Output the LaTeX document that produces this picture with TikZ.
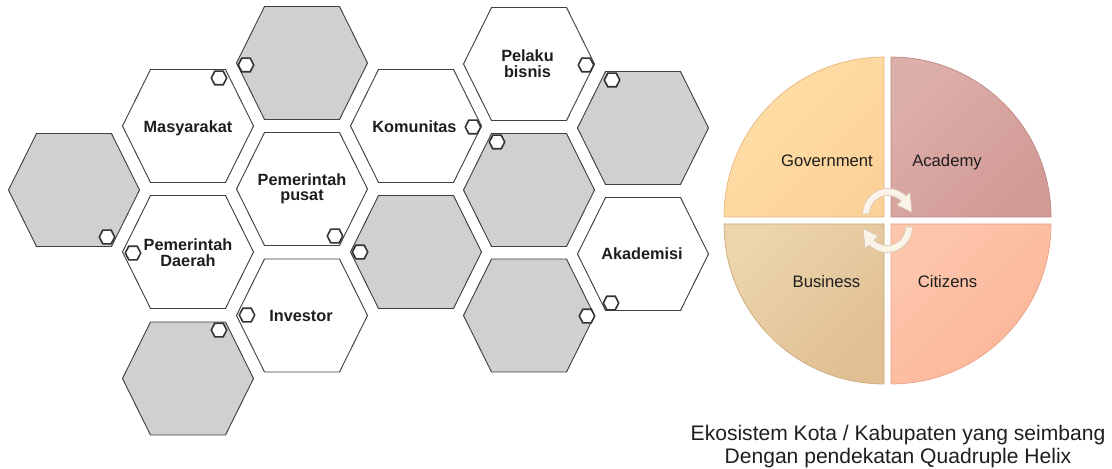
\documentclass[tikz,border=0pt]{standalone}
\usepackage{fontspec}
\setmainfont{Liberation Sans}

\definecolor{hexedge}{HTML}{404040}
\definecolor{hexgray}{HTML}{D0D0D0}
\definecolor{inktext}{HTML}{1E1E1E}
\definecolor{govA}{HTML}{FEDFA8}
\definecolor{govB}{HTML}{FCD298}
\definecolor{govE}{HTML}{E8B47A}
\definecolor{acaA}{HTML}{DDAFAB}
\definecolor{acaB}{HTML}{D29A95}
\definecolor{acaE}{HTML}{BF8580}
\definecolor{busA}{HTML}{ECD4AC}
\definecolor{busB}{HTML}{E0BF92}
\definecolor{busE}{HTML}{CBA777}
\definecolor{citA}{HTML}{FDC6AB}
\definecolor{citB}{HTML}{FBB598}
\definecolor{citE}{HTML}{E89F83}
\definecolor{arrowfill}{HTML}{FBF2E8}
\definecolor{arrowedge}{HTML}{D8C6B4}

% one honeycomb cell: x, y, fill, name of its centre
\newcommand{\hexcell}[4]{%
  \path[hexline, fill=#3, shift={(#1,#2)}]
    (-65.5,0) -- (-37.5,56.5) -- (37.5,56.5) -- (65.5,0)
    -- (37.5,-56.5) -- (-37.5,-56.5) -- cycle;
  \coordinate (#4) at (#1,#2);}

% small hexagonal marker: name, x, y
\newcommand{\hexbadge}[3]{%
  \path[badgeline, shift={(#2,#3)}]
    (-7.7,0) -- (-4.2,6.8) -- (4.2,6.8) -- (7.7,0)
    -- (4.2,-6.8) -- (-4.2,-6.8) -- cycle;
  \coordinate (#1) at (#2,#3);}

% curved cycle arrow around the origin of the current scope
\newcommand{\cyclearrow}{%
  \path[cyclearrow]
    (180:25.5) arc[start angle=180, end angle=45, radius=25.5]
    -- (45:31) -- (4:24) -- (45:12.5) -- (45:18.5)
    arc[start angle=45, end angle=180, radius=18.5] -- cycle;}

\begin{document}
\begin{tikzpicture}[x=0.75pt, y=0.75pt,
  hexline/.style={draw=hexedge, line width=0.7pt, line join=miter},
  badgeline/.style={draw=hexedge!80!black, line width=1.2pt, fill=white},
  hexlabel/.style={font=\bfseries\fontsize{12.2pt}{12pt}\selectfont, text=inktext,
                   align=center, inner sep=0pt},
  oneline/.style={text height=8.7pt, text depth=0pt},
  quadlabel/.style={font=\fontsize{12.5pt}{14pt}\selectfont, text=inktext,
                    anchor=base, inner sep=0pt},
  captionline/.style={font=\fontsize{15.8pt}{18pt}\selectfont, text=inktext,
                      anchor=base, inner sep=0pt},
  cyclearrow/.style={fill=arrowfill, draw=arrowedge, line width=0.5pt, line join=round}]

\useasboundingbox (0,0) rectangle (1112,468);

% ---------- honeycomb ----------
\hexcell{74}{278}{hexgray}{c1}
\hexcell{188}{342}{white}{c2}
\hexcell{188}{216}{white}{c3}
\hexcell{188}{89.5}{hexgray}{c4}
\hexcell{302}{405}{hexgray}{c5}
\hexcell{302}{279}{white}{c6}
\hexcell{302}{152.5}{white}{c7}
\hexcell{416}{342}{white}{c8}
\hexcell{416}{216}{hexgray}{c9}
\hexcell{529}{404}{white}{c10}
\hexcell{529}{278}{hexgray}{c11}
\hexcell{529}{152.5}{hexgray}{c12}
\hexcell{643}{340}{hexgray}{c13}
\hexcell{643}{214}{white}{c14}

\node[hexlabel, oneline] (masyarakat) at (188,341) {Masyarakat};
\node[hexlabel, font=\bfseries\fontsize{12.2pt}{11pt}\selectfont] (pusat) at (302,279) {Pemerintah\\pusat};
\node[hexlabel] (daerah) at (188,215) {Pemerintah\\Daerah};
\node[hexlabel, oneline] (investor) at (301,152.5) {Investor};
\node[hexlabel, oneline] (komunitas) at (414.5,341) {Komunitas};
\node[hexlabel] (pelaku) at (527.5,404) {Pelaku\\bisnis};
\node[hexlabel, oneline] (akademisi) at (642,214) {Akademisi};

% ---------- markers ----------
\hexbadge{b1}{219}{390}
\hexbadge{b2}{246}{403}
\hexbadge{b3}{107}{231}
\hexbadge{b4}{335}{232}
\hexbadge{b5}{133}{215}
\hexbadge{b6}{360}{216}
\hexbadge{b7}{219}{138}
\hexbadge{b8}{247}{153}
\hexbadge{b9}{473}{341}
\hexbadge{b10}{586}{403}
\hexbadge{b11}{497}{326}
\hexbadge{b12}{612}{388}
\hexbadge{b13}{587}{152}
\hexbadge{b14}{611}{165}

% ---------- quadruple helix circle ----------
\shadedraw[top color=govA, bottom color=govB, shading angle=45, draw=govE, line width=0.5pt]
  (884,251) -- ++(-160,0) arc[start angle=180, end angle=90, radius=160] -- cycle;
\shadedraw[top color=acaA, bottom color=acaB, shading angle=45, draw=acaE, line width=0.5pt]
  (891,251) -- ++(0,160) arc[start angle=90, end angle=0, radius=160] -- cycle;
\shadedraw[top color=citA, bottom color=citB, shading angle=45, draw=citE, line width=0.5pt]
  (891,244) -- ++(160,0) arc[start angle=0, end angle=-90, radius=160] -- cycle;
\shadedraw[top color=busA, bottom color=busB, shading angle=45, draw=busE, line width=0.5pt]
  (884,244) -- ++(0,-160) arc[start angle=270, end angle=180, radius=160] -- cycle;

\begin{scope}[shift={(888,254)}]
  \cyclearrow
\end{scope}
\begin{scope}[shift={(887,241)}, rotate=180]
  \cyclearrow
\end{scope}

\node[quadlabel] (government) at (827,301) {Government};
\node[quadlabel] (academy) at (947,301) {Academy};
\node[quadlabel] (business) at (826.5,181) {Business};
\node[quadlabel] (citizens) at (947.5,181) {Citizens};

% ---------- caption ----------
\node[captionline] (cap1) at (898,28) {Ekosistem Kota / Kabupaten yang seimbang};
\node[captionline] (cap2) at (898,5) {Dengan pendekatan Quadruple Helix};

\end{tikzpicture}
\end{document}
